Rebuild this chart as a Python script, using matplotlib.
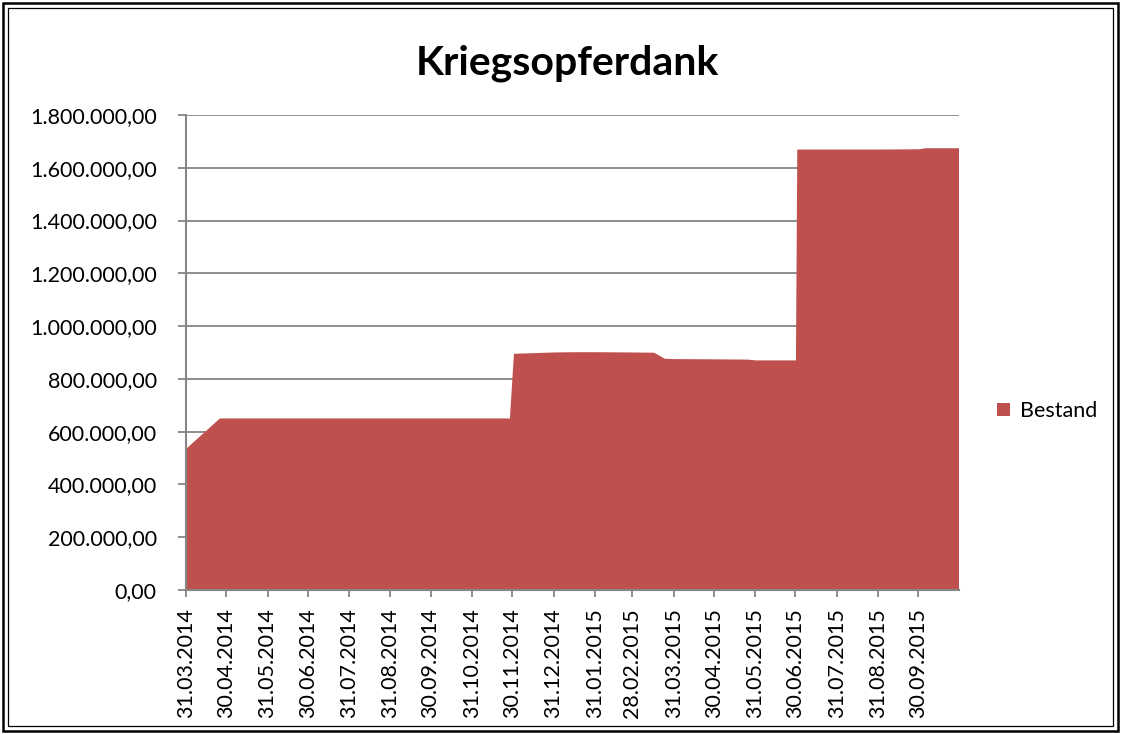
import matplotlib
matplotlib.use("Agg")
import matplotlib.pyplot as plt
import matplotlib.patches as mpatches
from matplotlib.ticker import FuncFormatter, MultipleLocator
from datetime import datetime

plt.rcParams['font.family'] = ['Lato', 'DejaVu Sans']

# ---- data ----
title = "Kriegsopferdank"
series_name = "Bestand"
dates = ["31.03.2014", "25.04.2014", "30.04.2014", "31.05.2014", "30.06.2014",
         "31.07.2014", "31.08.2014", "30.09.2014", "31.10.2014", "28.11.2014",
         "01.12.2014", "31.12.2014", "15.01.2015", "31.01.2015", "28.02.2015",
         "16.03.2015", "24.03.2015", "31.03.2015", "30.04.2015", "25.05.2015",
         "31.05.2015", "30.06.2015", "01.07.2015", "31.07.2015", "31.08.2015",
         "30.09.2015", "05.10.2015", "30.10.2015"]
bestand = [538000, 652000, 652000, 652000, 652000,
           652000, 652000, 652000, 652000, 652000,
           897000, 902000, 903000, 903000, 902000,
           901000, 878000, 877000, 876000, 875000,
           872000, 872000, 1671000, 1671000, 1671000,
           1672000, 1676000, 1676000]
tick_labels = ["31.03.2014", "30.04.2014", "31.05.2014", "30.06.2014", "31.07.2014",
               "31.08.2014", "30.09.2014", "31.10.2014", "30.11.2014", "31.12.2014",
               "31.01.2015", "28.02.2015", "31.03.2015", "30.04.2015", "31.05.2015",
               "30.06.2015", "31.07.2015", "31.08.2015", "30.09.2015"]


def de_fmt(v, pos=None):
    s = f"{v:,.2f}"
    return s.replace(",", "X").replace(".", ",").replace("X", ".")


W, H = 1121, 734
fig = plt.figure(figsize=(W / 100, H / 100), dpi=100)
fig.patch.set_facecolor("white")

ax = fig.add_axes([186 / W, 1 - 590 / H, (958.5 - 186) / W, (590 - 115) / H])
x = [datetime.strptime(d, "%d.%m.%Y") for d in dates]
ax.fill_between(x, bestand, 0, color="#C0504D", lw=0, label=series_name, zorder=2)
ax.set_xlim(x[0], x[-1])
ax.set_ylim(0, 1800000)
ax.yaxis.set_major_locator(MultipleLocator(200000))
ax.yaxis.set_major_formatter(FuncFormatter(de_fmt))
ax.grid(axis="y", color="#868686", lw=1.3, zorder=1)
ax.set_axisbelow(True)

tx = [datetime.strptime(d, "%d.%m.%Y") for d in tick_labels]
ax.set_xticks(tx)
ax.set_xticklabels(tick_labels, rotation=90, fontsize=15.5)

for s in ["top", "right"]:
    ax.spines[s].set_visible(False)
for s in ["left", "bottom"]:
    ax.spines[s].set_color("#868686")
    ax.spines[s].set_linewidth(1.5)
    ax.spines[s].set_zorder(3)

ax.tick_params(axis="y", length=6, width=1.3, color="#868686", pad=15, labelsize=15.5)
ax.tick_params(axis="x", length=5, width=1.3, color="#868686", pad=8, labelsize=15.5)

fig.text(567 / W, 1 - 75 / H, title, ha="center", va="baseline",
         fontsize=29.5, fontweight="bold")

ax.legend(loc="center left", bbox_to_anchor=(997 / W, 1 - 411 / H),
          bbox_transform=fig.transFigure, frameon=False, fontsize=15.5,
          handlelength=0.6, handleheight=0.6, handletextpad=0.45,
          borderaxespad=0, borderpad=0)

# double border
fig.patches.append(mpatches.Rectangle((3 / W, 3 / H), (W - 6) / W, (H - 6) / H,
                                      transform=fig.transFigure, fill=False,
                                      ec="black", lw=1.8))
fig.patches.append(mpatches.Rectangle((8 / W, 8 / H), (W - 16) / W, (H - 16) / H,
                                      transform=fig.transFigure, fill=False,
                                      ec="black", lw=0.9))

fig.savefig("out.png", dpi=100)
